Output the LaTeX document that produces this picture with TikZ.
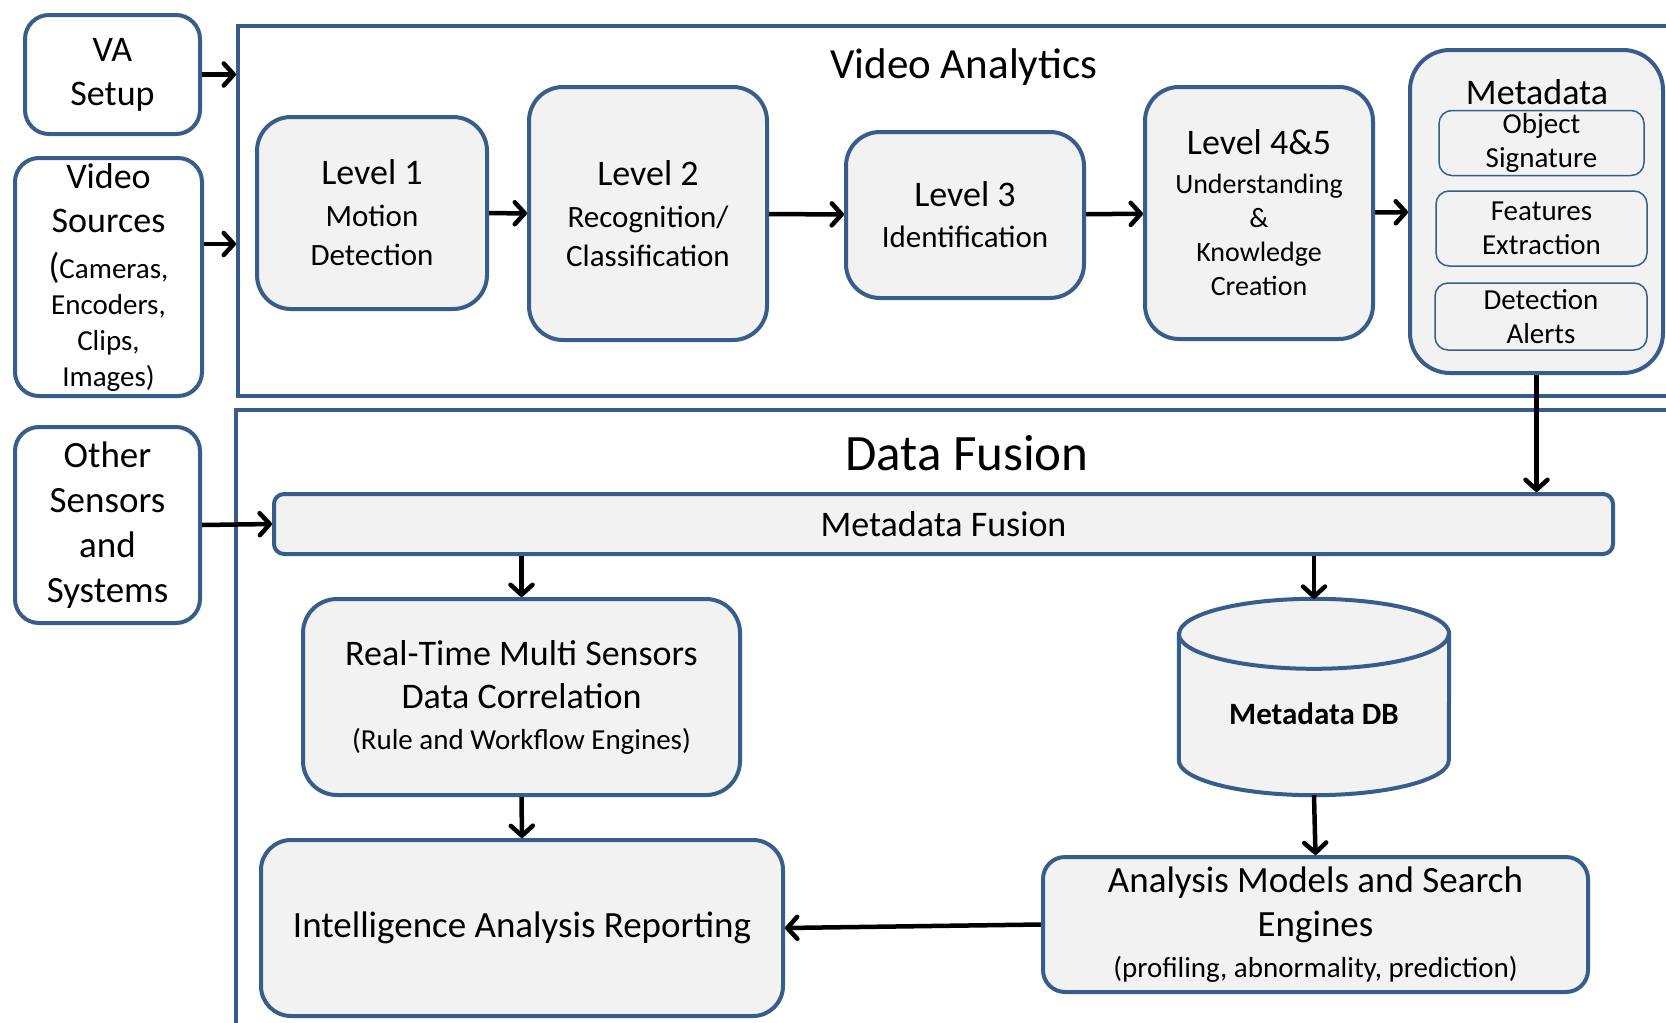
\documentclass[tikz,border=0pt]{standalone}
\usepackage{fontspec}
\setmainfont{Carlito}
\usetikzlibrary{arrows.meta}
\definecolor{frameblue}{RGB}{56,93,138}
\definecolor{boxgray}{RGB}{242,242,242}

\begin{document}
\begin{tikzpicture}[x=1pt, y=-1pt,
    frame_box/.style={draw=frameblue, line width=4pt, inner sep=0pt},
    src_box/.style={draw=frameblue, line width=4pt, fill=white, rounded corners=24pt, align=center, inner sep=0pt},
    level_box/.style={draw=frameblue, line width=4pt, fill=boxgray, rounded corners=34pt, align=center, inner sep=0pt},
    meta_item/.style={draw=frameblue, line width=1.5pt, fill=boxgray, rounded corners=13pt, align=center, inner sep=0pt, font=\fontsize{29}{34}\selectfont},
    flow_arrow/.style={-{Straight Barb[length=10pt,width=22pt,round]}, line width=4.5pt, black}
  ]
  \useasboundingbox (0,0) rectangle (1666,1023);

  % outer frames
  \node[frame_box, minimum width=1450pt, minimum height=370pt] (va_frame) at (963,211) {};
  \node[frame_box, minimum width=1460pt, minimum height=640pt] (df_frame) at (966,730) {};
  \node[font=\fontsize{43}{43}\selectfont] (va_title) at (964,67) {Video Analytics};
  \node[font=\fontsize{51}{51}\selectfont] (df_title) at (967,453) {Data Fusion};

  % inputs
  \node[src_box, minimum width=175pt, minimum height=119pt, font=\fontsize{36}{44}\selectfont] (va) at (112.5,74.5) {VA\\Setup};
  \node[src_box, minimum width=187pt, minimum height=238pt, font=\fontsize{29}{36}\selectfont] (vs) at (108.5,277)
    {{\fontsize{36}{36}\selectfont Video}\\[8pt]{\fontsize{36}{36}\selectfont Sources}\\[10pt]{\fontsize{36}{36}\selectfont(}Cameras,\\Encoders,\\Clips,\\Images)};
  \node[src_box, minimum width=185pt, minimum height=196pt, font=\fontsize{37}{45}\selectfont] (os) at (107.5,525) {Other\\Sensors\\and\\Systems};

  % video analytics levels
  \node[level_box, minimum width=230pt, minimum height=192pt, font=\fontsize{31}{39}\selectfont] (l1) at (372,213)
    {{\fontsize{36}{36}\selectfont Level 1}\\[3pt]Motion\\Detection};
  \node[level_box, minimum width=238pt, minimum height=253pt, font=\fontsize{31}{39}\selectfont] (l2) at (648,213.5)
    {{\fontsize{36}{36}\selectfont Level 2}\\[3pt]Recognition/\\Classification};
  \node[level_box, minimum width=238pt, minimum height=166pt, font=\fontsize{31}{39}\selectfont] (l3) at (965,215)
    {{\fontsize{36}{36}\selectfont Level 3}\\[2pt]Identification};
  \node[level_box, minimum width=228pt, minimum height=252pt, font=\fontsize{28}{34}\selectfont] (l4) at (1259,213)
    {{\fontsize{36}{36}\selectfont Level 4\&5}\\[5pt]Understanding\\\&\\Knowledge\\Creation};
  \node[level_box, rounded corners=40pt, minimum width=253pt, minimum height=323pt] (meta) at (1536.5,211.5) {};
  \node[font=\fontsize{36}{36}\selectfont] (meta_title) at (1537,92) {Metadata};
  \node[meta_item, minimum width=205pt, minimum height=65pt] (obj) at (1541.5,143) {Object\\Signature};
  \node[meta_item, minimum width=211pt, minimum height=75pt] (feat) at (1541.5,228.5) {Features\\Extraction};
  \node[meta_item, minimum width=212pt, minimum height=67pt] (alert) at (1541,316.5) {Detection\\Alerts};

  % data fusion
  \node[level_box, rounded corners=10pt, minimum width=1339pt, minimum height=60pt, font=\fontsize{36}{36}\selectfont] (fusion) at (943.5,524) {Metadata Fusion};
  \node[level_box, minimum width=437pt, minimum height=196pt, font=\fontsize{29}{36}\selectfont] (rt) at (521.5,697)
    {{\fontsize{36}{36}\selectfont Real-Time Multi Sensors}\\[7pt]{\fontsize{36}{36}\selectfont Data Correlation}\\[5pt](Rule and Workflow Engines)};
  \node[minimum width=270pt, minimum height=196pt, inner sep=0pt] (db) at (1314,697) {};
  \draw[draw=frameblue, line width=4pt, fill=boxgray]
    ([yshift=-35pt]db.north west) -- ([yshift=35pt]db.south west)
    arc[start angle=180, end angle=360, x radius=135pt, y radius=35pt]
    -- ([yshift=-35pt]db.north east)
    arc[start angle=0, end angle=180, x radius=135pt, y radius=35pt] -- cycle;
  \draw[draw=frameblue, line width=4pt] ([yshift=-35pt]db.north west)
    arc[start angle=180, end angle=360, x radius=135pt, y radius=35pt];
  \node[font=\bfseries\fontsize{31}{31}\selectfont] (db_text) at ([yshift=-17pt]db.center) {Metadata DB};
  \node[level_box, rounded corners=30pt, minimum width=522pt, minimum height=176pt, font=\fontsize{37}{37}\selectfont] (intel) at (522,928) {Intelligence Analysis Reporting};
  \node[level_box, rounded corners=22pt, minimum width=545pt, minimum height=135pt, font=\fontsize{29}{36}\selectfont] (analysis) at (1315.5,924.5)
    {{\fontsize{37}{37}\selectfont Analysis Models and Search}\\[8pt]{\fontsize{37}{37}\selectfont Engines}\\[5pt](profiling, abnormality, prediction)};

  % arrows
  \draw[flow_arrow] (va.east) -- (va.east -| va_frame.west);
  \draw[flow_arrow] ([yshift=33pt]vs.east) -- ([yshift=33pt]vs.east -| va_frame.west);
  \draw[flow_arrow] (os.east) -- (fusion.west);
  \draw[flow_arrow] (l1) -- (l2);
  \draw[flow_arrow] (l2) -- (l3);
  \draw[flow_arrow] (l3) -- (l4);
  \draw[flow_arrow] (l4) -- (meta);
  \draw[flow_arrow] (meta.south) -- (meta.south |- fusion.north);
  \draw[flow_arrow] (rt.north |- fusion.south) -- (rt.north);
  \draw[flow_arrow] (db.north |- fusion.south) -- (db.north);
  \draw[flow_arrow] (rt.south) -- (intel.north);
  \draw[flow_arrow] (db.south) -- (analysis.north);
  \draw[flow_arrow] (analysis.west) -- (intel.east);
\end{tikzpicture}
\end{document}
